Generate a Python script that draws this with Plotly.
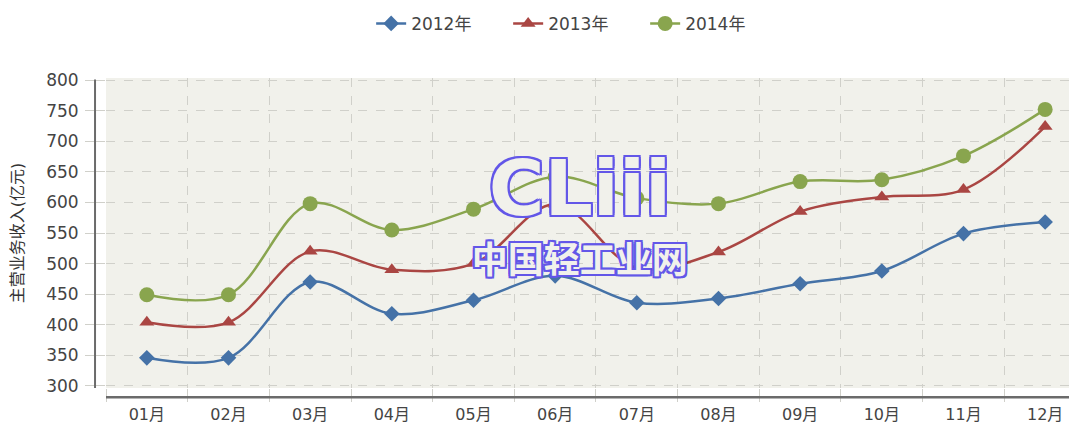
"""Monthly main business revenue, 2012-2014, smoothed line chart."""
import plotly.graph_objects as go

months = ["01月", "02月", "03月", "04月", "05月", "06月",
          "07月", "08月", "09月", "10月", "11月", "12月"]

rev_2012 = [346, 346, 470, 418, 440, 480, 436, 443, 467, 488, 549, 568]
rev_2013 = [404, 404, 520, 490, 500, 597, 493, 519, 585, 609, 621, 724]
rev_2014 = [449, 449, 598, 555, 589, 642, 607, 598, 634, 637, 676, 752]

series = [
    ("2012年", rev_2012, "#4572A7", "diamond", 12),
    ("2013年", rev_2013, "#AA4643", "triangle-up", 13),
    ("2014年", rev_2014, "#89A54E", "circle", 15),
]

x_idx = list(range(len(months)))
plot_bg = "#f1f1eb"
wm_color = "#6357e8"
text_font = "DejaVu Sans, Noto Sans CJK SC"

fig = go.Figure()

# watermark sits under the lines (hollow letters drawn with an outline shadow)
wm_shadow = (f"2px 0 {wm_color}, -2px 0 {wm_color}, 0 2px {wm_color}, 0 -2px {wm_color}, "
             f"2px 2px {wm_color}, -2px -2px {wm_color}, 2px -2px {wm_color}, -2px 2px {wm_color}")
fig.add_trace(go.Scatter(
    x=[0.488, 0.488], y=[0.62, 0.40],
    xaxis="x2", yaxis="y2",
    mode="text",
    text=["<b>CLiii</b>", "<b>中国轻工业网</b>"],
    textfont=dict(
        family=["DejaVu Sans", "Noto Sans CJK SC"],
        size=[76, 36],
        color=plot_bg,
        shadow=wm_shadow,
    ),
    hoverinfo="skip",
    showlegend=False,
))

for name, vals, color, symbol, size in series:
    fig.add_trace(go.Scatter(
        x=x_idx,
        y=vals,
        name=name,
        mode="lines+markers",
        line=dict(color=color, width=2.5, shape="spline", smoothing=1.0),
        marker=dict(symbol=symbol, size=size, color=color),
    ))

grid_color = "#d0d0ca"

fig.update_layout(
    width=1077,
    height=429,
    paper_bgcolor="white",
    plot_bgcolor=plot_bg,
    margin=dict(l=98, r=8, t=70, b=49),
    font=dict(family=text_font, size=14, color="#444"),
    showlegend=True,
    legend=dict(
        orientation="h",
        x=0.528, xanchor="center", xref="container",
        y=0.963, yanchor="middle", yref="container",
        font=dict(size=17, color="#444"),
        entrywidth=92,
    ),
    xaxis=dict(
        range=[-0.5, 11.39],
        tickmode="array",
        tickvals=x_idx,
        ticktext=months,
        showgrid=False,
        zeroline=False,
        ticks="",
        automargin=False,
        ticklabelstandoff=15,
        tickfont=dict(size=16, color="#444"),
        minor=dict(
            tick0=0.5, dtick=1,
            showgrid=True, gridcolor=grid_color, griddash="dash", gridwidth=1,
            ticks="outside", ticklen=13, tickcolor=grid_color,
        ),
    ),
    yaxis=dict(
        range=[296.7, 803.3],
        tickmode="array",
        tickvals=list(range(300, 801, 50)),
        showgrid=True,
        gridcolor=grid_color,
        griddash="dash",
        zeroline=False,
        ticks="outside",
        ticklen=20,
        tickcolor=grid_color,
        automargin=False,
        ticklabelstandoff=3,
        tickfont=dict(size=17, color="#444"),
        title=dict(text="主营业务收入(亿元)", font=dict(size=16, color="#333"), standoff=28),
    ),
    xaxis2=dict(overlaying="x", range=[0, 1], visible=False),
    yaxis2=dict(overlaying="y", range=[0, 1], visible=False),
)

# offset axis lines
fig.add_shape(type="line", xref="paper", yref="paper",
              x0=-0.0113, x1=-0.0113, y0=0.0, y1=0.995,
              line=dict(color="#6b6b6b", width=2))
fig.add_shape(type="line", xref="paper", yref="paper",
              x0=0.0, x1=1.0, y0=-0.03, y1=-0.03,
              line=dict(color="#6b6b6b", width=2.5))

fig.write_html("out.html")
